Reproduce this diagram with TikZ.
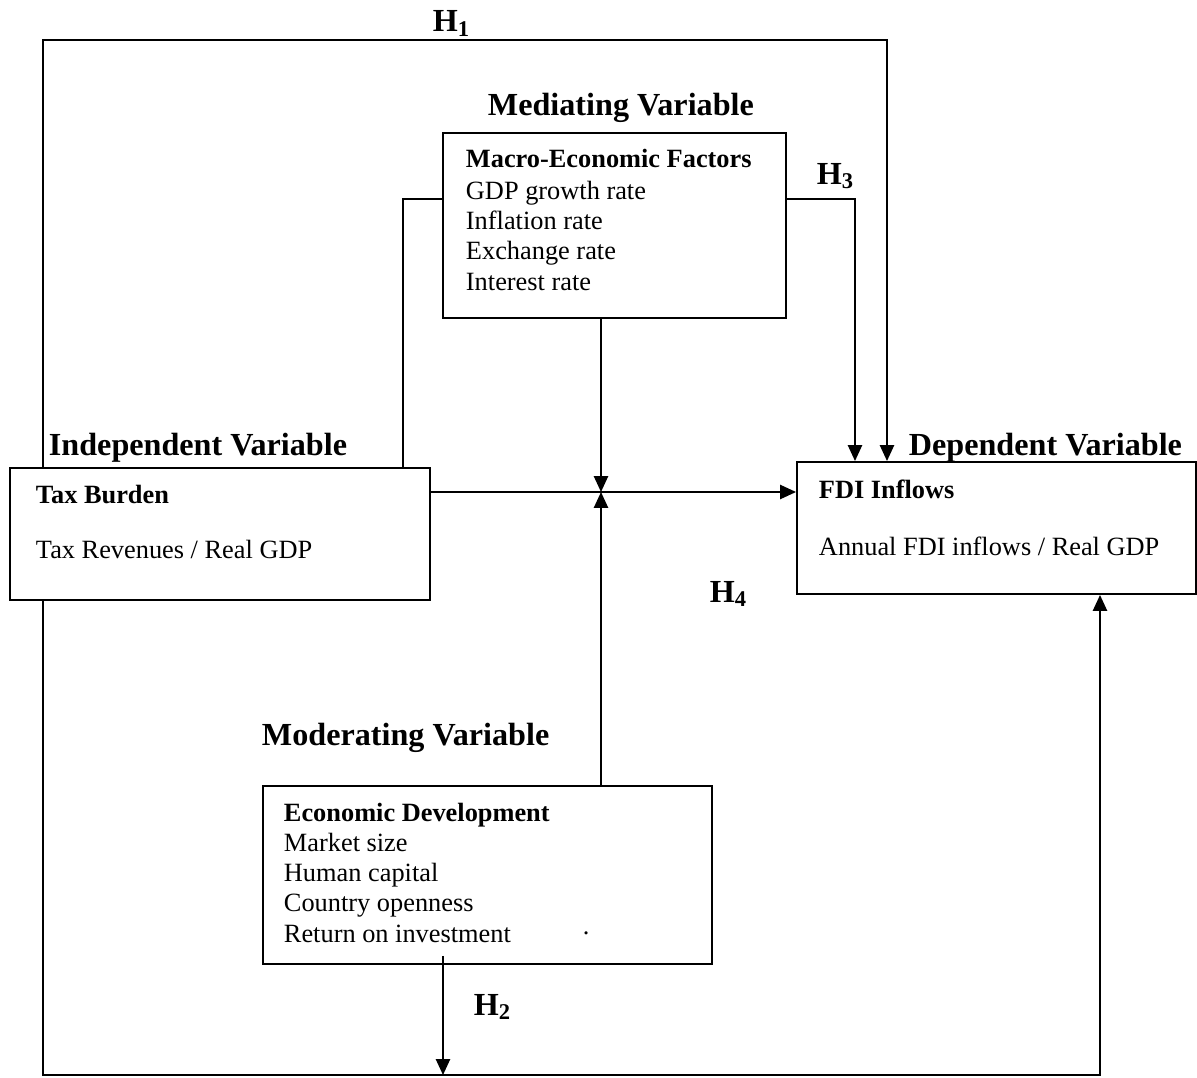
\documentclass[tikz,border=0pt]{standalone}
\usepackage{fontspec}
\setmainfont{Liberation Serif}
\usetikzlibrary{arrows.meta,fit,positioning}

\begin{document}
\begin{tikzpicture}[x=0.02cm,y=-0.02cm,line width=1.1pt,
  >={Triangle[length=9pt,width=8pt]},
  box/.style={draw,fill=white,inner sep=0pt},
  ttl/.style={font=\fontsize{18.3}{21}\selectfont\bfseries,anchor=base west,inner sep=0pt},
  lbl/.style={font=\fontsize{15}{17}\selectfont,anchor=base west,inner sep=0pt},
  hyp/.style={font=\fontsize{18.3}{21}\selectfont\bfseries,anchor=base west,inner sep=0pt}]

\useasboundingbox (0,0) rectangle (1197,1078);

% ---------- boxes ----------
\node[box,fit={(443,133) (786,318)}] (med) {};
\node[box,fit={(10,468) (430,600)}] (tax) {};
\node[box,fit={(797,462) (1196,594)}] (fdi) {};
\node[box,fit={(263,786) (712,964)}] (ed) {};

% ---------- headings ----------
\node[ttl] (medttl) at (487,115) {Mediating Variable};
\node[ttl] (taxttl) at (48,455) {Independent Variable};
\node[ttl] (fdittl) at (908,455) {Dependent Variable};
\node[ttl] (edttl) at (261,745) {Moderating Variable};

% ---------- box texts ----------
\node[lbl,font=\fontsize{15}{17}\selectfont\bfseries] (med0) at (465,168) {Macro-Economic Factors};
\node[lbl] (med1) at (465,199) {GDP growth rate};
\node[lbl] (med2) at (465,229) {Inflation rate};
\node[lbl] (med3) at (465,259) {Exchange rate};
\node[lbl] (med4) at (465,290) {Interest rate};

\node[lbl,font=\fontsize{15}{17}\selectfont\bfseries] (tax0) at (35,503) {Tax Burden};
\node[lbl] (tax1) at (35,558) {Tax Revenues / Real GDP};

\node[lbl,font=\fontsize{15}{17}\selectfont\bfseries] (fdi0) at (818,498) {FDI Inflows};
\node[lbl] (fdi1) at (818,555) {Annual FDI inflows / Real GDP};

\node[lbl,font=\fontsize{15}{17}\selectfont\bfseries] (ed0) at (283,821) {Economic Development};
\node[lbl] (ed1) at (283,851) {Market size};
\node[lbl] (ed2) at (283,881) {Human capital};
\node[lbl] (ed3) at (283,911) {Country openness};
\node[lbl] (ed4) at (283,942) {Return on investment};
\node[lbl] (eddot) at (582,934) {.};

% ---------- hypotheses ----------
\node[hyp] (h1) at (432,32) {H\textsubscript{1}};
\node[hyp] (h3) at (816,184) {H\textsubscript{3}};
\node[hyp] (h4) at (709,602) {H\textsubscript{4}};
\node[hyp] (h2) at (473,1015) {H\textsubscript{2}};

% ---------- bends ----------
\coordinate (h1a) at (43,40);
\coordinate (h1b) at (887,40);
\coordinate (h2a) at (43,1075);
\coordinate (h2b) at (1100,1075);
\coordinate (h2c) at (443,1075);
\coordinate (m1) at (403,199);
\coordinate (m3) at (855,199);
\coordinate (jn) at (601,492);

% ---------- connectors ----------
\draw[->] (tax.north -| h1a) -- (h1a) -- (h1b) -- (fdi.north -| h1b);
\draw[->] (tax.south -| h2a) -- (h2a) -- (h2b) -- (fdi.south -| h2b);
\draw[->] ([yshift=0.18cm]ed.south -| h2c) -- (h2c);
\draw (med.west |- m1) -- (m1) -- (tax.north -| m1);
\draw[->] (med.east |- m3) -- (m3) -- (fdi.north -| m3);
\draw[->] (med.south -| jn) -- (jn);
\draw[->] (ed.north -| jn) -- (jn);
\draw[->] (tax.east |- jn) -- (fdi.west |- jn);
\end{tikzpicture}
\end{document}
